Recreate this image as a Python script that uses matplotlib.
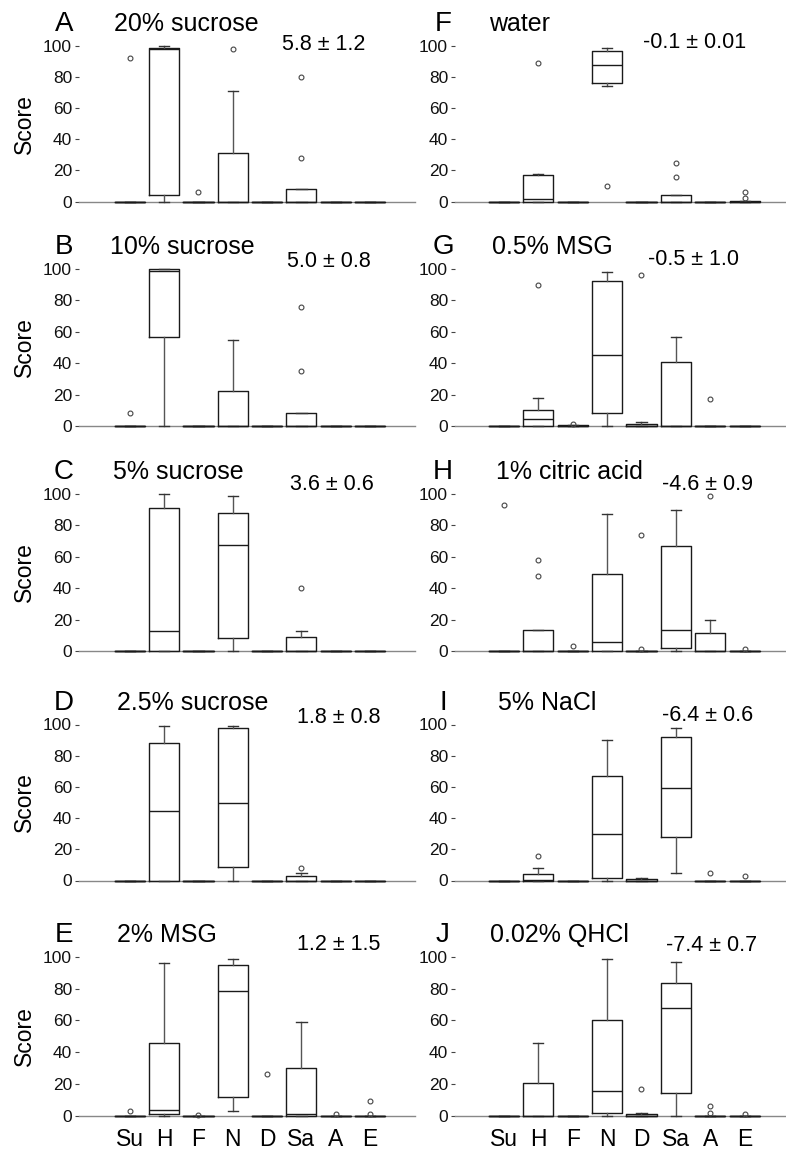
import matplotlib
matplotlib.use("Agg")
import matplotlib.pyplot as plt
from matplotlib import transforms

plt.rcParams['font.family'] = ['Liberation Sans', 'DejaVu Sans']

categories = ["Su", "H", "F", "N", "D", "Sa", "A", "E"]
letters = ["A", "B", "C", "D", "E", "F", "G", "H", "I", "J"]
titles = ["20% sucrose", "10% sucrose", "5% sucrose", "2.5% sucrose", "2% MSG",
          "water", "0.5% MSG", "1% citric acid", "5% NaCl", "0.02% QHCl"]
means = ["5.8", "5.0", "3.6", "1.8", "1.2", "-0.1", "-0.5", "-4.6", "-6.4", "-7.4"]
sems = ["1.2", "0.8", "0.6", "0.8", "1.5", "0.01", "1.0", "0.9", "0.6", "0.7"]

Z = (0, 0, 0, 0, 0)
# (whisker low, q1, median, q3, whisker high) per category
A_box = [Z, (0, 4, 98, 99, 100), Z, (0, 0, 0, 31, 71), Z, (0, 0, 0, 8, 8), Z, Z]
A_fliers = [[92], [], [6], [98], [], [80, 28], [], []]
B_box = [Z, (0, 57, 99, 100, 100), Z, (0, 0, 0, 22, 55), Z, (0, 0, 0, 8.5, 8.5), Z, Z]
B_fliers = [[8], [], [], [], [], [76, 35], [], []]
C_box = [Z, (0, 0, 12.5, 91, 100), Z, (0, 8, 67.5, 88, 99), Z, (0, 0, 0, 9, 12.5), Z, Z]
C_fliers = [[], [], [], [], [], [40], [], []]
D_box = [Z, (0, 0, 44.5, 88, 99), Z, (0, 8.5, 49.5, 98, 99), Z, (0, 0, 0, 3, 5), Z, Z]
D_fliers = [[], [], [], [], [], [8], [], []]
E_box = [Z, (0, 1, 3.5, 45.5, 96), Z, (3, 11.5, 78.5, 95, 99), Z, (0, 0, 1, 30, 59), Z, Z]
E_fliers = [[3], [], [0.5], [], [26], [], [1], [9, 1]]
F_box = [Z, (0, 0, 1.5, 17, 18), Z, (74, 76, 88, 97, 99), Z, (0, 0, 0, 4.5, 4.5), Z,
         (0, 0, 0, 0.6, 0.6)]
F_fliers = [[], [89], [], [10], [], [25, 16], [], [6, 2.5]]
G_box = [Z, (0, 0, 4.5, 10, 18), (0, 0, 0, 0.4, 0.4), (0, 8.5, 45.5, 92.5, 98),
         (0, 0, 0, 1.5, 2.8), (0, 0, 0, 41, 57), Z, Z]
G_fliers = [[], [90], [1], [], [96], [], [17], []]
H_box = [Z, (0, 0, 0, 13.5, 13.5), Z, (0, 0, 5.5, 49, 87), Z, (0, 2, 13.5, 67, 90),
         (0, 0, 0, 11.5, 20), Z]
H_fliers = [[93], [58, 48], [3], [], [74, 1], [], [99], [1]]
I_box = [Z, (0, 0, 0.5, 4, 8), Z, (0, 1.5, 29.5, 67, 90), (0, 0, 0, 0.7, 1.5),
         (5, 28, 59.5, 92, 98), Z, Z]
I_fliers = [[], [16], [], [], [], [], [5], [3]]
J_box = [Z, (0, 0, 0, 20.5, 46), Z, (0, 1.8, 15.5, 60.5, 99), (0, 0, 0, 1, 1.7),
         (0, 14.5, 68, 83.5, 97), Z, Z]
J_fliers = [[], [], [], [], [16.5], [], [6, 1.3], [1]]

boxes = [A_box, B_box, C_box, D_box, E_box, F_box, G_box, H_box, I_box, J_box]
fliers = [A_fliers, B_fliers, C_fliers, D_fliers, E_fliers,
          F_fliers, G_fliers, H_fliers, I_fliers, J_fliers]

# layout (pixels)
W, H = 786, 1156
rows_px = [(46, 201.5), (269, 426), (494, 651), (724.5, 880.5), (957, 1115.5)]
col_px = [(79, 415), (455, 786)]
xlims = [(-1.48, 8.31), (-1.42, 8.2)]
letter_x = [64, 443]
title_x = [[114, 110, 113, 117, 117], [489, 492, 496, 498, 490]]
mean_x = [[282, 287, 290, 297, 297], [643, 648, 662, 662, 666]]
mean_y = [[101, 105, 106, 104.5, 108], [102, 106, 106, 106, 107]]

fig = plt.figure(figsize=(W / 100, H / 100), dpi=100)

for i in range(10):
    col, row = divmod(i, 5)
    y100, y0 = rows_px[row]
    x0, x1 = col_px[col]
    ax = fig.add_axes([x0 / W, (H - y0) / H, (x1 - x0) / W, (y0 - y100) / H])
    stats = []
    for j, (lo, q1, med, q3, hi) in enumerate(boxes[i]):
        stats.append(dict(whislo=lo, q1=q1, med=med, q3=q3, whishi=hi,
                          fliers=fliers[i][j]))
    arts = ax.bxp(stats, positions=list(range(8)), widths=0.88, capwidths=0.3,
                  boxprops=dict(color='#1a1a1a', lw=1.0),
                  whiskerprops=dict(color='#555555', lw=1.0),
                  capprops=dict(color='#333333', lw=1.0),
                  medianprops=dict(color='#1a1a1a', lw=1.0),
                  flierprops=dict(marker='o', markersize=3.5, markerfacecolor='none',
                                  markeredgecolor='#444444', markeredgewidth=0.8),
                  manage_ticks=False)
    for key in arts:
        for a in arts[key]:
            a.set_clip_on(False)
            a.set_zorder(3)
    ax.set_ylim(0, 100)
    ax.set_xlim(*xlims[col])
    for s in ['top', 'right', 'left']:
        ax.spines[s].set_visible(False)
    ax.spines['bottom'].set_color('#888888')
    ax.spines['bottom'].set_linewidth(1.0)
    ax.set_yticks([0, 20, 40, 60, 80, 100])
    ax.tick_params(axis='y', direction='out', length=3, width=0.8, color='#444444',
                   labelsize=12.5, pad=2, labelcolor='#111111')
    if row == 4:
        ax.set_xticks(range(8))
        ax.set_xticklabels(categories, fontsize=16.5)
        ax.tick_params(axis='x', length=0, pad=9)
    else:
        ax.set_xticks([])
    ax.patch.set_alpha(0)

    trans = transforms.blended_transform_factory(fig.transFigure, ax.transData)
    ax.text(letter_x[col] / W, 114, letters[i], transform=trans, ha='center',
            va='center', fontsize=20, clip_on=False)
    ax.text(title_x[col][row] / W, 114, titles[i], transform=trans, ha='left',
            va='center', fontsize=18, clip_on=False)
    ax.text(mean_x[col][row] / W, mean_y[col][row], f"{means[i]} \u00b1 {sems[i]}",
            transform=trans, ha='left', va='center', fontsize=15.5, clip_on=False)
    if col == 0:
        fig.text(24 / W, (H - (y0 + y100) / 2) / H, "Score", rotation=90,
                 ha='center', va='center', fontsize=16.5)

fig.savefig("out.png", dpi=100)
